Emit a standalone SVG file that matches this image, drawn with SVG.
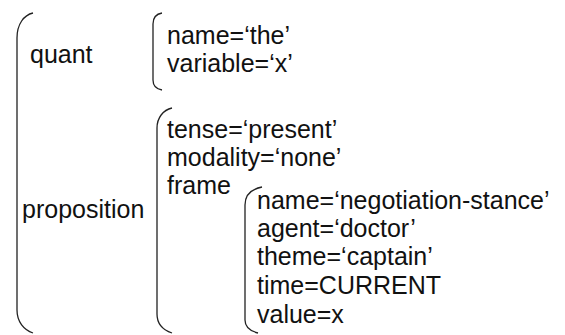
<svg xmlns="http://www.w3.org/2000/svg" width="565" height="335" viewBox="0 0 565 335">
<style>
text{font-family:"Liberation Sans",Arial,sans-serif;font-size:25px;fill:#111}
.br{fill:none;stroke:#222;stroke-width:1.3}
</style>
<rect width="565" height="335" fill="#fff"/>
<g id="connectors">
<path id="outer-bracket" class="br" d="M33,13 C24,15 17,24 17,38 L17,310 C17,322 24,330 33,333"/>
<path id="quant-bracket" class="br" d="M162,13 C156,14 153,18 153,24 L153,80 C153,86 156,89 162,90"/>
<path id="prop-bracket" class="br" d="M172,108 C163,110 157,118 157,128 L157,314 C157,324 163,330 172,333"/>
<path id="frame-bracket" class="br" d="M262,187 C252,189 245,195 245,205 L245,320 C245,327 250,331 258,333"/>
</g>
<g id="quant"><text x="30" y="63">quant</text></g>
<g id="proposition"><text x="22" y="218">proposition</text></g>
<g id="quant-features">
<text x="167" y="44">name=‘the’</text>
<text x="167" y="72">variable=‘x’</text>
</g>
<g id="prop-features">
<text x="167" y="138">tense=‘present’</text>
<text x="167" y="166">modality=‘none’</text>
<text x="167" y="194">frame</text>
</g>
<g id="frame-features">
<text x="257" y="209">name=‘negotiation-stance’</text>
<text x="257" y="237">agent=‘doctor’</text>
<text x="257" y="265">theme=‘captain’</text>
<text x="257" y="294">time=CURRENT</text>
<text x="257" y="323">value=x</text>
</g>
</svg>
